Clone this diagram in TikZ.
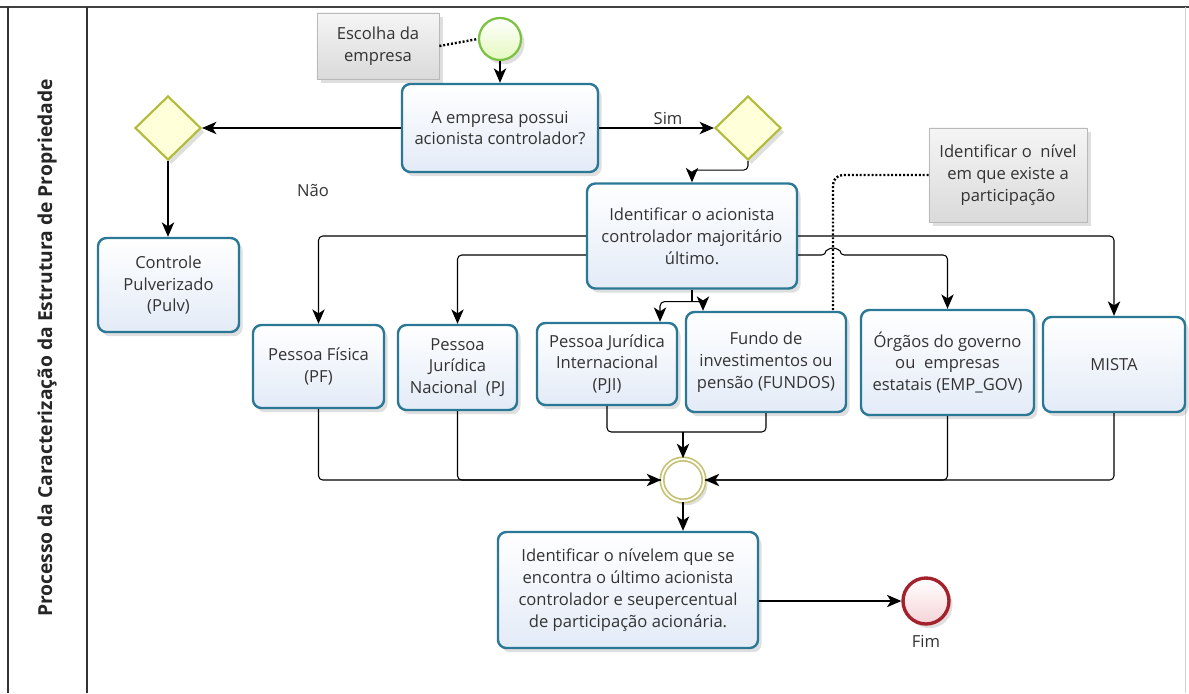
\documentclass[tikz,border=0pt]{standalone}
\usepackage{fontspec}
\setmainfont{Open Sans}
\usetikzlibrary{arrows.meta,shapes.geometric,shadows,positioning}

\definecolor{taskline}{HTML}{2B7896}
\definecolor{taskfill}{HTML}{E3EBF7}
\definecolor{gateline}{HTML}{B2BC3A}
\definecolor{gatefill}{HTML}{FFFFDA}
\definecolor{startline}{HTML}{7CC242}
\definecolor{startfill}{HTML}{E4F8BE}
\definecolor{endline}{HTML}{A3212A}
\definecolor{endfill}{HTML}{F5D3D7}
\definecolor{mergeline}{HTML}{C6C070}
\definecolor{notefill}{HTML}{DADADA}
\definecolor{textgray}{HTML}{333333}

\newcommand\flowfont{\fontsize{11.8}{15.5}\selectfont}
\newcommand\lanefont{\fontsize{13.7}{15}\selectfont\bfseries}

\tikzset{
  softshadow/.style={drop shadow={shadow xshift=2.5pt,shadow yshift=-3pt,opacity=0.25,fill=black!50}},
  task/.style={draw=taskline,line width=1.7pt,rounded corners=6pt,top color=white,bottom color=taskfill,
    align=center,font=\flowfont,text=textgray,inner sep=2pt,softshadow},
  gate/.style={diamond,draw=gateline,line width=1.5pt,fill=gatefill,minimum width=1.65cm,
    minimum height=1.6cm,inner sep=0pt,softshadow},
  startev/.style={circle,draw=startline,line width=1.6pt,top color=white,bottom color=startfill,
    minimum size=1.05cm,inner sep=0pt,softshadow},
  endev/.style={circle,draw=endline,line width=2.4pt,top color=white,bottom color=endfill,
    minimum size=1.15cm,inner sep=0pt,softshadow},
  mergeev/.style={circle,draw=mergeline,line width=1.2pt,double=white,double distance=1.3pt,
    fill=white,minimum size=1.05cm,inner sep=0pt,softshadow},
  note/.style={draw=gray!55,line width=0.5pt,top color=white!92!gray,bottom color=notefill,
    align=center,font=\flowfont,text=textgray,softshadow},
  flow/.style={-{Stealth[length=3.6mm,width=3.1mm,inset=1mm]},line width=0.75pt,rounded corners=3pt},
  plainflow/.style={line width=0.75pt,rounded corners=3pt},
  assoc/.style={line width=1.7pt,dash pattern=on 1.4pt off 1.4pt,rounded corners=7pt},
  lbl/.style={font=\flowfont,text=textgray},
}

\begin{document}
\begin{tikzpicture}[x=0.025cm,y=-0.025cm]
  \useasboundingbox (0,0) rectangle (1189,693);

  % pool and lane
  \draw[line width=1.3pt,black!75] (0,7) -- (1189,7);
  \draw[line width=0.8pt,black!80] (8,7) -- (8,693) (87,7) -- (87,693);
  \draw[line width=0.5pt,gray!35] (1185,7) -- (1185,693);
  \node[rotate=90,font=\lanefont,text=black!85] (lane) at (47,348)
    {Processo da Caracterização da Estrutura de Propriedade};

  % start, first question and gateways
  \node[startev] (start) at (500,39) {};
  \node[note,minimum width=3.05cm,minimum height=1.65cm] (escolha) at (378,46) {Escolha da\\empresa};
  \node[task,minimum width=4.9cm,minimum height=2.2cm] (possui) at (500,128)
    {A empresa possui\\acionista controlador?};
  \node[gate] (gnao) at (168,128) {};
  \node[gate] (gsim) at (748,128) {};
  \node[lbl] (nao) at (313,190) {Não};

  \node[task,minimum width=3.525cm,minimum height=2.35cm] (pulv) at (168.5,285)
    {Controle\\Pulverizado\\(Pulv)};
  \node[task,minimum width=5.25cm,minimum height=2.625cm] (ident) at (692,236)
    {Identificar o acionista\\controlador majoritário\\último.};
  \node[note,minimum width=3.95cm,minimum height=2.35cm] (partic) at (1008,175)
    {Identificar o \ nível\\em que existe a\\participação};

  % kinds of controller
  \node[task,minimum width=3.275cm,minimum height=2.075cm] (pf) at (318.5,366.5) {Pessoa Física\\(PF)};
  \node[task,minimum width=2.975cm,minimum height=2.125cm] (pj) at (457.5,367.5) {Pessoa\\Jurídica\\Nacional \ (PJ};
  \node[task,minimum width=3.5cm,minimum height=2.05cm] (pji) at (607,364) {Pessoa Jurídica\\Internacional\\(PJI)};
  \node[task,minimum width=4cm,minimum height=2.5cm] (fundos) at (766,362) {Fundo de\\investimentos ou\\pensão (FUNDOS)};
  \node[task,minimum width=4.325cm,minimum height=2.625cm] (empgov) at (947.5,362.5) {Órgãos do governo\\ou \ empresas\\estatais (EMP\_GOV)};
  \node[task,minimum width=3.55cm,minimum height=2.375cm] (mista) at (1114,364.5) {MISTA};

  % merge and end
  \node[mergeev] (merge) at (683,480) {};
  \node[task,minimum width=6.5cm,minimum height=2.9cm] (nivel) at (628,590)
    {Identificar o nívelem que se\\encontra o último acionista\\controlador e seupercentual\\de participação acionária.};
  \node[endev] (fim) at (926,601) {};
  \node[lbl,below=3pt of fim] (fimlbl) {Fim};

  % sequence flows
  \draw[flow] (start) -- (possui);
  \draw[flow] (possui) -- (gnao);
  \draw[flow] (possui) -- node[lbl,above=-1pt,pos=0.6] {Sim} (gsim);
  \draw[flow] (gnao.south) -- (gnao.south |- pulv.north);
  \draw[flow] (gsim.south) -- ++(0,9) -| (ident.north);

  \draw[flow] (ident.west) -| (pf.north);
  \draw[flow] ([yshift=-0.475cm]ident.west) -| (pj.north);
  \draw[flow] (ident.east) -| (mista.north);
  \draw[flow] ([yshift=-0.475cm]ident.east) -- (826,255)
    arc[start angle=180,end angle=0,radius=0.175cm] -| (empgov.north);
  \draw[plainflow] (ident.south) -- ++(0,12) coordinate (split);
  \draw[flow] (split) -| ([xshift=1.325cm]pji.north);
  \draw[flow] (split) -| ([xshift=-1.575cm]fundos.north);

  \coordinate (join) at (683,432);
  \draw[plainflow] (pji.south) |- (join);
  \draw[plainflow] (fundos.south) |- (join);
  \draw[flow] (join) -- (merge.north);
  \draw[flow] (pf.south) |- (merge.west);
  \draw[plainflow] (pj.south) |- (merge.west);
  \draw[flow] (empgov.south) |- (merge.east);
  \draw[plainflow] (mista.south) |- (merge.east);
  \draw[flow] (merge.south) -- (merge.south |- nivel.north);
  \draw[flow] (fim.west -| nivel.east) -- (fim.west);

  % associations
  \draw[assoc] (escolha.east) -- (start.west);
  \draw[assoc] (partic.west) -| ([xshift=1.675cm]fundos.north);
\end{tikzpicture}
\end{document}
